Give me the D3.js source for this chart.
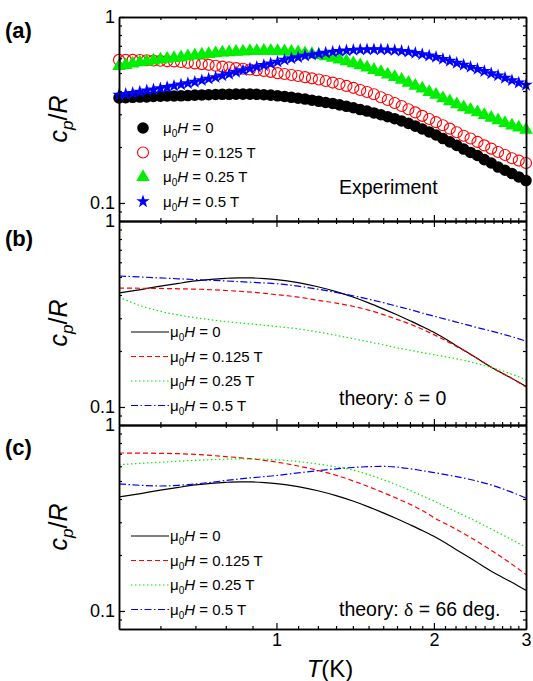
<!DOCTYPE html>
<html>
<head>
<meta charset="utf-8">
<script src="https://cdn.jsdelivr.net/npm/d3@7"></script>
<style>
  body { margin: 0; background: #fff; }
  svg { font-family: Arial, "Liberation Sans", sans-serif; }
</style>
</head>
<body>
<svg id="chart" width="533" height="681"></svg>
<script>
// temperatures (K) of the experimental points
const tExp = [0.500, 0.515, 0.531, 0.548, 0.565, 0.582, 0.600, 0.618, 0.637, 0.657, 0.677, 0.698,
  0.720, 0.742, 0.765, 0.788, 0.812, 0.837, 0.863, 0.890, 0.917, 0.946, 0.975, 1.005, 1.036, 1.068,
  1.100, 1.134, 1.169, 1.205, 1.242, 1.281, 1.320, 1.361, 1.403, 1.446, 1.490, 1.536, 1.584, 1.632,
  1.683, 1.735, 1.788, 1.843, 1.900, 1.959, 2.019, 2.081, 2.145, 2.212, 2.280, 2.350, 2.423, 2.497,
  2.574, 2.653, 2.735, 2.820, 2.906, 3.000]
const expH0 = [0.367, 0.368, 0.370, 0.371, 0.372, 0.374, 0.375, 0.376, 0.376, 0.377, 0.378, 0.380,
  0.381, 0.382, 0.383, 0.384, 0.384, 0.385, 0.385, 0.385, 0.384, 0.382, 0.380, 0.377, 0.374, 0.370,
  0.366, 0.362, 0.357, 0.352, 0.347, 0.343, 0.337, 0.331, 0.325, 0.318, 0.312, 0.305, 0.298, 0.291,
  0.284, 0.276, 0.268, 0.259, 0.250, 0.241, 0.232, 0.222, 0.213, 0.204, 0.195, 0.187, 0.180, 0.171,
  0.164, 0.156, 0.150, 0.144, 0.138, 0.132]
const expH0125 = [0.588, 0.588, 0.588, 0.587, 0.585, 0.584, 0.582, 0.579, 0.577, 0.573, 0.567, 0.563,
  0.558, 0.553, 0.547, 0.541, 0.536, 0.531, 0.527, 0.522, 0.518, 0.513, 0.507, 0.499, 0.494, 0.488,
  0.482, 0.475, 0.468, 0.461, 0.453, 0.444, 0.436, 0.426, 0.416, 0.405, 0.395, 0.384, 0.370, 0.358,
  0.345, 0.332, 0.319, 0.307, 0.294, 0.283, 0.272, 0.262, 0.251, 0.240, 0.230, 0.222, 0.213, 0.204,
  0.196, 0.188, 0.181, 0.174, 0.169, 0.164]
const expH025 = [0.545, 0.552, 0.561, 0.570, 0.576, 0.583, 0.590, 0.596, 0.601, 0.606, 0.614, 0.620,
  0.627, 0.632, 0.637, 0.643, 0.646, 0.649, 0.652, 0.655, 0.656, 0.657, 0.657, 0.656, 0.653, 0.650,
  0.645, 0.638, 0.632, 0.624, 0.614, 0.603, 0.590, 0.577, 0.563, 0.549, 0.535, 0.519, 0.505, 0.490,
  0.475, 0.459, 0.443, 0.427, 0.412, 0.395, 0.381, 0.365, 0.352, 0.339, 0.327, 0.317, 0.307, 0.297,
  0.287, 0.278, 0.269, 0.261, 0.254, 0.247]
const expH05 = [0.381, 0.385, 0.390, 0.396, 0.402, 0.407, 0.413, 0.419, 0.426, 0.433, 0.440, 0.447,
  0.456, 0.465, 0.474, 0.484, 0.493, 0.505, 0.516, 0.528, 0.539, 0.550, 0.562, 0.574, 0.588, 0.598,
  0.607, 0.618, 0.626, 0.634, 0.642, 0.649, 0.655, 0.660, 0.664, 0.667, 0.668, 0.669, 0.668, 0.666,
  0.662, 0.656, 0.650, 0.640, 0.630, 0.619, 0.609, 0.594, 0.580, 0.566, 0.552, 0.538, 0.525, 0.511,
  0.497, 0.484, 0.470, 0.456, 0.443, 0.431]

// temperatures (K) of the theory curves
const tTh = [0.50, 0.55, 0.60, 0.65, 0.70, 0.75, 0.80, 0.85, 0.90, 0.95, 1.00, 1.10, 1.20, 1.30,
  1.40, 1.50, 1.60, 1.70, 1.80, 1.90, 2.00, 2.20, 2.40, 2.60, 2.80, 3.00]
// zero field: same curve for both delta
const thH0 = [0.410, 0.428, 0.446, 0.462, 0.476, 0.486, 0.492, 0.495, 0.494, 0.490, 0.484, 0.466,
  0.443, 0.417, 0.390, 0.363, 0.337, 0.313, 0.291, 0.271, 0.252, 0.215, 0.185, 0.161, 0.144, 0.129]
// delta = 0
const thB0125 = [0.436, 0.435, 0.434, 0.432, 0.430, 0.427, 0.423, 0.419, 0.414, 0.408, 0.402, 0.390,
  0.375, 0.362, 0.348, 0.332, 0.314, 0.296, 0.279, 0.262, 0.245, 0.213, 0.185, 0.161, 0.144, 0.128]
const thB025 = [0.390, 0.350, 0.327, 0.312, 0.302, 0.294, 0.288, 0.283, 0.279, 0.275, 0.271, 0.263,
  0.253, 0.243, 0.233, 0.224, 0.216, 0.208, 0.202, 0.196, 0.191, 0.182, 0.172, 0.162, 0.151, 0.140]
const thB05 = [0.506, 0.500, 0.494, 0.489, 0.484, 0.480, 0.476, 0.472, 0.468, 0.464, 0.460, 0.446,
  0.430, 0.413, 0.396, 0.380, 0.364, 0.348, 0.334, 0.320, 0.308, 0.287, 0.269, 0.254, 0.240, 0.226]
// delta = 66 deg
const thC0125 = [0.707, 0.706, 0.704, 0.701, 0.695, 0.686, 0.676, 0.667, 0.657, 0.645, 0.632, 0.602,
  0.570, 0.537, 0.501, 0.466, 0.433, 0.403, 0.375, 0.347, 0.318, 0.276, 0.240, 0.208, 0.181, 0.157]
const thC025 = [0.612, 0.622, 0.631, 0.639, 0.646, 0.651, 0.655, 0.657, 0.657, 0.654, 0.650, 0.636,
  0.617, 0.596, 0.572, 0.541, 0.508, 0.476, 0.445, 0.416, 0.390, 0.343, 0.305, 0.272, 0.244, 0.220]
const thC05 = [0.482, 0.474, 0.470, 0.474, 0.482, 0.492, 0.503, 0.513, 0.521, 0.528, 0.535, 0.553,
  0.568, 0.581, 0.591, 0.597, 0.599, 0.594, 0.582, 0.568, 0.555, 0.529, 0.502, 0.472, 0.438, 0.405]

const fieldLabels = ["0", "0.125 T", "0.25 T", "0.5 T"]
const panelLabels = ["(a)", "(b)", "(c)"]
const panelNotes = ["Experiment", "theory: δ = 0", "theory: δ = 66 deg."]
const xMajor = [1, 2, 3]
const xMinor = [0.6, 0.7, 0.8, 0.9, 1.1, 1.2, 1.3, 1.4, 1.5, 1.6, 1.7, 1.8, 1.9,
  2.1, 2.2, 2.3, 2.4, 2.5, 2.6, 2.7, 2.8, 2.9]
const yMajor = [0.1, 1]
const yMinor = [0.09, 0.2, 0.3, 0.4, 0.5, 0.6, 0.7, 0.8, 0.9]

const colors = ["#000000", "#ff0000", "#00ee00", "#0000ff"]
const dashes = [null, "5,3", "1.5,2.5", "7,2.5,1.5,2.5"]

const svg = d3.select("#chart")
const left = 119, right = 526, panelH = 204
const tops = [17, 221, 425]

const x = d3.scaleLog().domain([0.5, 3]).range([left, right])

function axes(g, y, top, showX) {
  const bottom = top + panelH
  function draw(axis, transform, ticks, size, labels) {
    const a = g.append("g").attr("transform", transform)
      .call(axis.tickValues(ticks).tickSize(-size).tickSizeOuter(0).tickPadding(4)
        .tickFormat(labels ? d3.format("") : ""))
    a.select(".domain").attr("stroke-width", 1.5)
    a.selectAll(".tick line").attr("stroke-width", 1.2)
    a.selectAll("text").attr("font-size", 18).attr("fill", "#000")
    return a
  }
  draw(d3.axisBottom(x), "translate(0," + bottom + ")", xMajor, 6, showX)
  draw(d3.axisBottom(x), "translate(0," + bottom + ")", xMinor, 3, false)
  draw(d3.axisTop(x), "translate(0," + top + ")", xMajor, 6, false)
  draw(d3.axisTop(x), "translate(0," + top + ")", xMinor, 3, false)
  draw(d3.axisLeft(y), "translate(" + left + ",0)", yMajor, 6, true)
  draw(d3.axisLeft(y), "translate(" + left + ",0)", yMinor, 3, false)
  draw(d3.axisRight(y), "translate(" + right + ",0)", yMajor, 6, false)
  draw(d3.axisRight(y), "translate(" + right + ",0)", yMinor, 3, false)
}

function fieldText(g, px, py, label) {
  const t = g.append("text").attr("x", px).attr("y", py).attr("dy", "0.35em")
    .attr("font-size", 15).attr("fill", "#000")
  t.append("tspan").text("μ")
  t.append("tspan").attr("font-size", 10).attr("dy", 4).text("0")
  t.append("tspan").attr("font-style", "italic").attr("dy", -4).text("H")
  t.append("tspan").text(" = " + label)
}

function yLabel(top) {
  const t = svg.append("text")
    .attr("transform", "translate(67," + (top + panelH / 2) + ") rotate(-90)")
    .attr("text-anchor", "middle").attr("font-size", 25).attr("font-style", "italic")
  t.append("tspan").text("c")
  t.append("tspan").attr("font-size", 17).attr("dy", 6).text("p")
  t.append("tspan").attr("dy", -6).attr("font-style", "normal").text("/")
  t.append("tspan").text("R")
}

const symbols = [
  d3.symbol().type(d3.symbolCircle).size(105),
  d3.symbol().type(d3.symbolCircle).size(95),
  d3.symbol().type(d3.symbolTriangle).size(80),
  d3.symbol().type(d3.symbolStar).size(55)
]
function markerStyle(sel, i) {
  if (i === 1) {
    sel.attr("fill", "none").attr("stroke", colors[1]).attr("stroke-width", 1.1)
  } else {
    sel.attr("fill", colors[i]).attr("stroke", "none")
  }
}

tops.forEach(function(top, p) {
  const g = svg.append("g")
  const y = d3.scaleLog().domain([0.08, 1]).range([top + panelH, top])

  if (p === 0) {
    const series = [expH0, expH0125, expH025, expH05]
    series.forEach(function(vals, i) {
      g.append("g").selectAll("path")
        .data(tExp)
        .enter()
        .append("path")
        .attr("d", symbols[i])
        .attr("transform", function(d, k) {
          return "translate(" + x(d) + "," + y(vals[k]) + ")"
        })
        .call(markerStyle, i)
    })
  } else {
    const series = p === 1 ? [thH0, thB0125, thB025, thB05] : [thH0, thC0125, thC025, thC05]
    const line = d3.line()
      .x(function(d) { return x(d[0]) })
      .y(function(d) { return y(d[1]) })
      .curve(d3.curveMonotoneX)
    series.forEach(function(vals, i) {
      g.append("path")
        .attr("d", line(d3.zip(tTh, vals)))
        .attr("fill", "none")
        .attr("stroke", colors[i])
        .attr("stroke-width", 1.2)
        .attr("stroke-dasharray", dashes[i])
    })
  }

  axes(g, y, top, p === 2)

  // legend
  fieldLabels.forEach(function(lab, i) {
    const ly = top + 111 + i * 24.5
    if (p === 0) {
      g.append("path").attr("d", symbols[i])
        .attr("transform", "translate(143," + ly + ")")
        .call(markerStyle, i)
      fieldText(g, 163, ly, lab)
    } else {
      g.append("line").attr("x1", 131).attr("x2", 169).attr("y1", ly).attr("y2", ly)
        .attr("stroke", colors[i]).attr("stroke-width", 1.2)
        .attr("stroke-dasharray", dashes[i])
      fieldText(g, 170, ly, lab)
    }
  })

  const noteY = [194, 405, 616][p]
  const note = g.append("text").attr("x", 339).attr("y", noteY)
    .attr("font-size", 19.5).attr("fill", "#000")
  if (p === 0) {
    note.text(panelNotes[0])
  } else {
    const parts = panelNotes[p].split("δ")
    note.append("tspan").text(parts[0])
    note.append("tspan").attr("font-family", "'Liberation Serif', 'Times New Roman', serif").text("δ")
    note.append("tspan").text(parts[1])
  }

  svg.append("text").attr("x", 5).attr("y", [38, 246, 455][p])
    .attr("font-size", 22).attr("font-weight", "bold").text(panelLabels[p])
  yLabel(top)
})

const xl = svg.append("text").attr("x", 330).attr("y", 677)
  .attr("text-anchor", "middle").attr("font-size", 24)
xl.append("tspan").attr("font-style", "italic").text("T")
xl.append("tspan").text("(K)")
</script>
</body>
</html>
